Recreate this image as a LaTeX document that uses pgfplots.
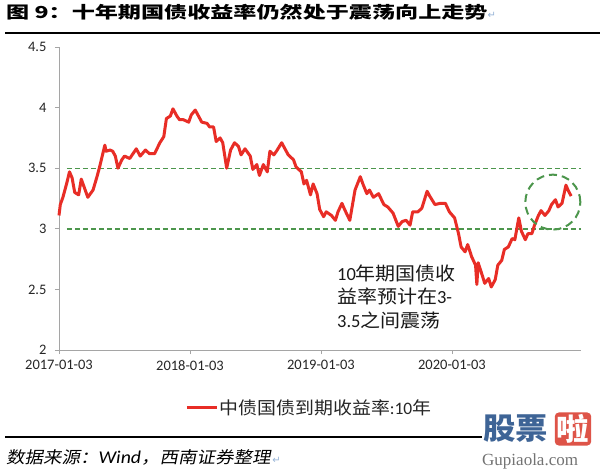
\documentclass[border=0pt]{standalone}
\usepackage{fontspec}
\usepackage{pgfplots}
\pgfplotsset{compat=1.18}

\setmainfont{Carlito}
\newfontfamily\cjk{Noto Sans CJK SC}[FakeStretch=1.08]
\newfontfamily\titlecjk{Noto Sans CJK SC}[FakeStretch=1.4]
\newfontfamily\footcjk{Noto Sans CJK SC}[FakeStretch=1.12,FakeSlant=0.2]
\newfontfamily\footlatin{Carlito}[FakeStretch=1.1]
\newfontfamily\symfont{DejaVu Sans}
\newfontfamily\wmserif{Liberation Serif}

\definecolor{lnred}{RGB}{232,45,38}
\definecolor{lvgreen}{RGB}{76,150,76}
\definecolor{axgray}{RGB}{165,165,165}
\definecolor{markblue}{RGB}{150,180,215}
\definecolor{wmblue}{RGB}{62,100,150}
\definecolor{wmred}{RGB}{222,84,72}

% 10y CGB yield, x = years after 2017-01-03
\pgfplotstableread{
t    y
0.00 3.11
0.01 3.20
0.03 3.26
0.06 3.38
0.08 3.47
0.10 3.42
0.12 3.30
0.15 3.28
0.17 3.41
0.19 3.35
0.22 3.26
0.26 3.32
0.29 3.43
0.31 3.51
0.35 3.69
0.36 3.64
0.39 3.65
0.41 3.64
0.43 3.60
0.45 3.50
0.48 3.57
0.50 3.60
0.54 3.58
0.59 3.66
0.62 3.60
0.66 3.65
0.69 3.62
0.73 3.62
0.77 3.71
0.80 3.76
0.82 3.91
0.85 3.93
0.87 3.99
0.90 3.93
0.92 3.90
0.95 3.90
0.99 3.88
1.01 3.94
1.04 3.98
1.06 3.94
1.09 3.88
1.13 3.87
1.15 3.84
1.18 3.84
1.20 3.72
1.23 3.75
1.25 3.71
1.28 3.50
1.31 3.65
1.34 3.71
1.37 3.68
1.39 3.61
1.42 3.66
1.46 3.60
1.48 3.49
1.51 3.53
1.53 3.44
1.56 3.53
1.59 3.47
1.61 3.64
1.64 3.61
1.66 3.64
1.70 3.71
1.73 3.65
1.75 3.61
1.79 3.57
1.81 3.51
1.85 3.47
1.87 3.37
1.89 3.40
1.92 3.28
1.94 3.37
1.97 3.29
1.99 3.16
2.02 3.10
2.04 3.14
2.08 3.11
2.11 3.07
2.13 3.14
2.16 3.21
2.18 3.16
2.22 3.07
2.26 3.32
2.30 3.43
2.32 3.37
2.35 3.29
2.37 3.32
2.40 3.26
2.44 3.29
2.48 3.20
2.51 3.18
2.55 3.13
2.59 3.02
2.62 3.06
2.65 3.07
2.68 3.03
2.70 3.14
2.74 3.14
2.77 3.17
2.81 3.31
2.83 3.27
2.87 3.20
2.91 3.21
2.95 3.21
2.98 3.14
3.02 3.09
3.05 2.96
3.07 2.85
3.10 2.81
3.12 2.87
3.15 2.77
3.18 2.70
3.19 2.54
3.20 2.72
3.23 2.62
3.25 2.55
3.28 2.59
3.30 2.52
3.33 2.58
3.35 2.70
3.38 2.74
3.40 2.83
3.43 2.85
3.46 2.92
3.48 2.91
3.51 3.09
3.53 2.98
3.56 2.91
3.58 2.96
3.61 2.96
3.63 3.03
3.66 3.11
3.68 3.15
3.71 3.11
3.74 3.15
3.76 3.20
3.79 3.24
3.81 3.18
3.84 3.21
3.87 3.36
3.89 3.31
3.91 3.27
}\yielddata

\begin{document}
\begin{tikzpicture}[x=1pt,y=1pt]
\path[use as bounding box, fill=white] (0,0) rectangle (600,-470);

% title + rule
\node[anchor=west, inner sep=0] at (6,-12)
  {\titlecjk\bfseries\fontsize{16.5}{16.5}\selectfont 图 9：十年期国债收益率仍然处于震荡向上走势{\symfont\mdseries\color{markblue}\fontsize{10}{10}\selectfont ↵}};
\draw[line width=2.6pt] (5,-33) -- (600,-33);

\begin{axis}[
    at={(59pt,-350pt)}, anchor=south west,
    scale only axis, width=522pt, height=303pt,
    xmin=0, xmax=3.985,
    ymin=2, ymax=4.5,
    axis x line*=bottom, axis y line*=left,
    axis line style={axgray, line width=0.9pt, -},
    xtick={0,1,2,3},
    xticklabels={2017-01-03,2018-01-03,2019-01-03,2020-01-03},
    ytick={2,2.5,3,3.5,4,4.5},
    tick align=outside,
    major tick length=4pt,
    tick style={axgray, line width=0.8pt},
    ticklabel style={font=\fontsize{14.5}{15}\selectfont, text=black!85},
    yticklabel style={xshift=-5pt},
    xticklabel style={yshift=-3pt},
    /pgf/number format/assume math mode=true,
    clip=false,
    legend style={at={(0.479,-0.191)}, anchor=center, draw=none, fill=none,
        font=\fontsize{17.5}{18}\selectfont, text=black!85,
        nodes={inner sep=1.5pt}},
    legend image code/.code={\draw[#1, line width=3pt] (0pt,0pt) -- (30pt,0pt);},
]
\addplot[lvgreen, line width=1.4pt, dash pattern=on 5pt off 3pt, forget plot]
    coordinates {(0.06,3.5) (3.985,3.5)};
\addplot[lvgreen, line width=1.4pt, dash pattern=on 5pt off 3pt, forget plot]
    coordinates {(0.06,3.0) (3.985,3.0)};
\addplot[lnred, line width=3pt, line join=round] table[x=t, y=y] {\yielddata};
\addlegendentry{{\cjk 中债国债到期收益率}:10{\cjk 年}}
\draw[lvgreen, line width=2pt, dash pattern=on 8pt off 5pt]
    (axis cs:3.77,3.22) circle[radius=27.5pt];
\end{axis}

% annotation
\begin{scope}[every node/.style={anchor=west, inner sep=0, font=\fontsize{18.5}{19}\selectfont, text=black!90}]
\node at (337,-273) {10{\cjk 年期国债收}};
\node at (337,-296) {{\cjk 益率预计在}3-};
\node at (337,-320) {3.5{\cjk 之间震荡}};
\end{scope}

% footer
\draw[line width=1.8pt] (5,-437) -- (482,-437);
\node[anchor=west, inner sep=0] at (6,-457)
  {\footcjk\fontsize{16.5}{17}\selectfont 数据来源：{\footlatin\itshape\fontsize{18}{18}\selectfont Wind}，西南证券整理\kern2pt{\symfont\color{markblue}\fontsize{10}{10}\selectfont ↵}};

% watermark
\node[anchor=west, inner sep=0, text=wmblue] at (483,-429)
  {\cjk\bfseries\fontsize{30}{30}\selectfont 股票};
\node[fill=wmred, rounded corners=4pt, inner sep=2pt, text=white] at (573,-429)
  {\cjk\bfseries\fontsize{30}{30}\selectfont 啦};
\node[anchor=west, inner sep=0, text=black!55] at (482,-461)
  {\wmserif\fontsize{17}{17}\selectfont Gupiaola.com};
\end{tikzpicture}
\end{document}
